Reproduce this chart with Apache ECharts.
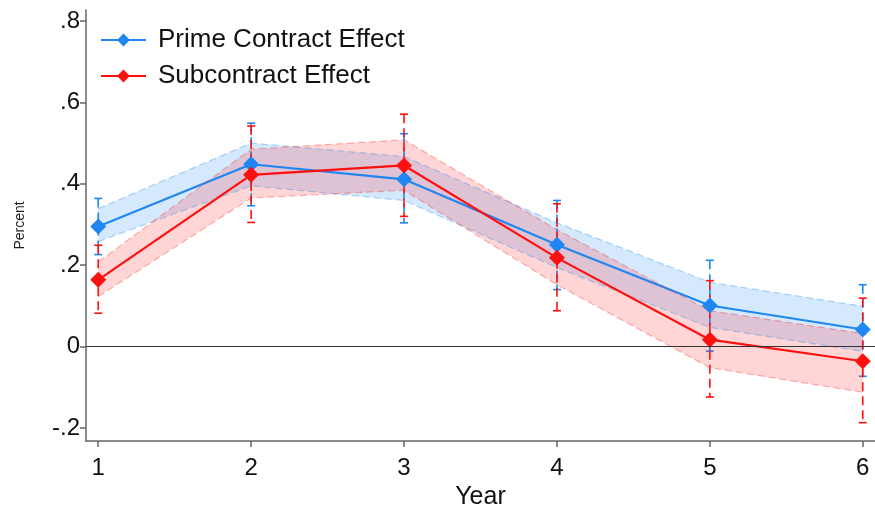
<!DOCTYPE html>
<html>
<head>
<meta charset="utf-8">
<script src="https://cdn.jsdelivr.net/npm/echarts@6/dist/echarts.min.js"></script>
<style>
  html, body { margin: 0; padding: 0; background: #fff; }
  #chart { width: 875px; height: 512px; }
</style>
</head>
<body>
<div id="chart"></div>
<script>
// Event-study estimates by year after award
const years = [1, 2, 3, 4, 5, 6];

// Prime contract effect: point estimate, error-bar limits, shaded band limits
const primeEst    = [0.295, 0.448, 0.411, 0.250, 0.101, 0.042];
const primeCiLo   = [0.226, 0.346, 0.304, 0.140, -0.011, -0.073];
const primeCiHi   = [0.364, 0.549, 0.523, 0.359, 0.212, 0.152];
const primeBandLo = [0.258, 0.395, 0.359, 0.194, 0.047, -0.012];
const primeBandHi = [0.339, 0.500, 0.467, 0.304, 0.158, 0.099];

// Subcontract effect
const subEst    = [0.164, 0.422, 0.445, 0.218, 0.017, -0.036];
const subCiLo   = [0.082, 0.305, 0.320, 0.088, -0.124, -0.187];
const subCiHi   = [0.249, 0.542, 0.571, 0.351, 0.162, 0.119];
const subBandLo = [0.123, 0.365, 0.384, 0.152, -0.052, -0.112];
const subBandHi = [0.208, 0.485, 0.508, 0.287, 0.088, 0.032];

const yTicks = [-0.2, 0, 0.2, 0.4, 0.6, 0.8];
const yTickText = { '-0.2': '-.2', '0': '0', '0.2': '.2', '0.4': '.4', '0.6': '.6', '0.8': '.8' };

const BLUE = '#1f86f2';
const RED = '#ff1010';
const FONT = '"Liberation Sans", Arial, sans-serif';

function zip3(lo, hi) { return years.map((x, i) => [x, lo[i], hi[i]]); }
function pairs(vals) { return years.map((x, i) => [x, vals[i]]); }

// Shaded band: one closed polygon through the lower and upper limits
function bandSeries(lo, hi, fill) {
  const rows = zip3(lo, hi);
  return {
    type: 'custom',
    silent: true,
    data: rows,
    encode: { x: 0, y: [1, 2] },
    renderItem: function (params, api) {
      if (params.dataIndex !== 0) return null;
      const lower = rows.map(r => api.coord([r[0], r[1]]));
      const upper = rows.map(r => api.coord([r[0], r[2]])).reverse();
      return {
        type: 'polygon',
        shape: { points: lower.concat(upper) },
        style: { fill: fill }
      };
    }
  };
}

// Dashed outline of a band edge
function edgeSeries(vals, color) {
  return {
    type: 'line',
    silent: true,
    data: pairs(vals),
    symbol: 'none',
    lineStyle: { color: color, width: 1.2, type: [7, 4] }
  };
}

// Capped, dashed error bars
function errorSeries(lo, hi, color) {
  return {
    type: 'custom',
    silent: true,
    data: zip3(lo, hi),
    encode: { x: 0, y: [1, 2] },
    renderItem: function (params, api) {
      const x = api.value(0);
      const a = api.coord([x, api.value(1)]);
      const b = api.coord([x, api.value(2)]);
      const cap = 4;
      const st = { stroke: color, lineWidth: 1.6, lineDash: [9, 5] };
      const cs = { stroke: color, lineWidth: 1.6 };
      return {
        type: 'group',
        children: [
          { type: 'line', shape: { x1: b[0], y1: b[1], x2: a[0], y2: a[1] }, style: st },
          { type: 'line', shape: { x1: a[0] - cap, y1: a[1], x2: a[0] + cap, y2: a[1] }, style: cs },
          { type: 'line', shape: { x1: b[0] - cap, y1: b[1], x2: b[0] + cap, y2: b[1] }, style: cs }
        ]
      };
    }
  };
}

function estSeries(name, vals, color) {
  return {
    name: name,
    type: 'line',
    data: pairs(vals),
    symbol: 'diamond',
    symbolSize: 16,
    itemStyle: { color: color },
    lineStyle: { color: color, width: 2.2 }
  };
}

const chart = echarts.init(document.getElementById('chart'), null, { renderer: 'canvas' });

chart.setOption({
  animation: false,
  backgroundColor: '#ffffff',
  grid: { left: 86, right: 0, top: 10, bottom: 71, containLabel: false, outerBoundsMode: 'none' },
  legend: {
    left: 100,
    top: 27,
    padding: 0,
    orient: 'vertical',
    itemWidth: 45,
    itemHeight: 16,
    itemGap: 10,
    data: ['Prime Contract Effect', 'Subcontract Effect'],
    textStyle: { fontFamily: FONT, fontSize: 26, color: '#111', padding: [0, 0, 0, 7] }
  },
  xAxis: {
    type: 'value',
    min: 0.92,
    max: 6.08,
    name: 'Year',
    nameLocation: 'middle',
    nameGap: 44,
    nameTextStyle: { fontFamily: FONT, fontSize: 25, color: '#111' },
    splitLine: { show: false },
    axisLine: { show: true, onZero: false, lineStyle: { color: '#666', width: 1.5 } },
    axisTick: { show: true, length: 6, customValues: years, lineStyle: { color: '#666', width: 1.5 } },
    axisLabel: { customValues: years, margin: 15, fontFamily: FONT, fontSize: 24, color: '#111' }
  },
  yAxis: {
    type: 'value',
    min: -0.232,
    max: 0.827,
    name: 'Percent',
    nameLocation: 'middle',
    nameGap: 59,
    nameTextStyle: { fontFamily: FONT, fontSize: 14, color: '#222' },
    splitLine: { show: false },
    axisLine: { show: true, onZero: false, lineStyle: { color: '#666', width: 1.5 } },
    axisTick: { show: true, length: 6, customValues: yTicks, lineStyle: { color: '#666', width: 1.5 } },
    axisLabel: {
      customValues: yTicks,
      margin: 6,
      fontFamily: FONT,
      fontSize: 24,
      color: '#111',
      formatter: v => yTickText[String(Math.round(v * 10) / 10)]
    }
  },
  series: [
    {
      type: 'line',
      data: [],
      silent: true,
      markLine: {
        silent: true,
        symbol: 'none',
        label: { show: false },
        lineStyle: { color: '#333', width: 1.2, type: 'solid' },
        data: [{ yAxis: 0 }]
      }
    },
    bandSeries(primeBandLo, primeBandHi, 'rgba(30,140,245,0.19)'),
    edgeSeries(primeBandLo, 'rgba(30,140,245,0.35)'),
    edgeSeries(primeBandHi, 'rgba(30,140,245,0.35)'),
    errorSeries(primeCiLo, primeCiHi, BLUE),
    estSeries('Prime Contract Effect', primeEst, BLUE),
    bandSeries(subBandLo, subBandHi, 'rgba(255,30,30,0.19)'),
    edgeSeries(subBandLo, 'rgba(255,40,40,0.35)'),
    edgeSeries(subBandHi, 'rgba(255,40,40,0.35)'),
    errorSeries(subCiLo, subCiHi, RED),
    estSeries('Subcontract Effect', subEst, RED)
  ]
});
</script>
</body>
</html>
